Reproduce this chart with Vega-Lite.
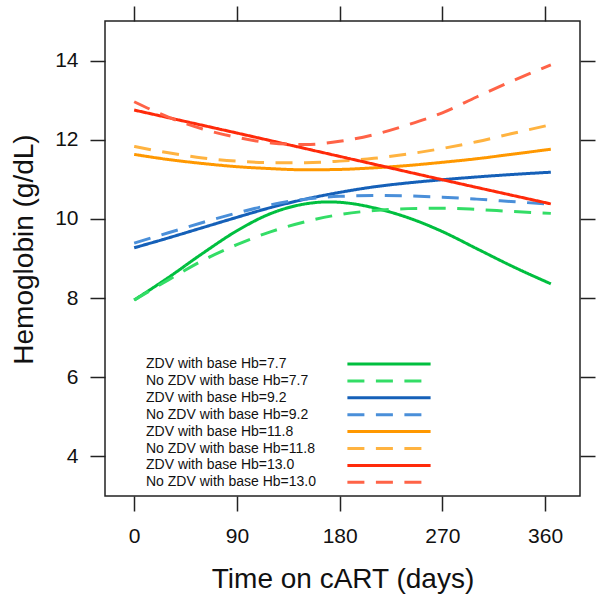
{
  "$schema": "https://vega.github.io/schema/vega-lite/v6.json",
  "width": 475,
  "height": 475,
  "autosize": "none",
  "padding": {"left": 105, "top": 21, "right": 22, "bottom": 104},
  "background": "white",
  "config": {
    "font": "Liberation Sans",
    "view": {"stroke": "#222222", "strokeWidth": 1.5},
    "axis": {"domain": false, "grid": false, "tickColor": "#222222", "tickWidth": 1.5, "tickSize": 15, "labelColor": "#111111", "titleColor": "#111111", "labelFont": "Liberation Sans", "titleFont": "Liberation Sans", "labelFontSize": 21, "titleFontSize": 28, "titleFontWeight": "normal"}
  },
  "data": {"values": [
    {"series": "ZDV with base Hb=7.7", "day": 0, "hb": 7.95},
    {"series": "ZDV with base Hb=7.7", "day": 30, "hb": 8.52},
    {"series": "ZDV with base Hb=7.7", "day": 60, "hb": 9.13},
    {"series": "ZDV with base Hb=7.7", "day": 90, "hb": 9.70},
    {"series": "ZDV with base Hb=7.7", "day": 120, "hb": 10.14},
    {"series": "ZDV with base Hb=7.7", "day": 150, "hb": 10.38},
    {"series": "ZDV with base Hb=7.7", "day": 170, "hb": 10.43},
    {"series": "ZDV with base Hb=7.7", "day": 190, "hb": 10.39},
    {"series": "ZDV with base Hb=7.7", "day": 210, "hb": 10.28},
    {"series": "ZDV with base Hb=7.7", "day": 240, "hb": 10.03},
    {"series": "ZDV with base Hb=7.7", "day": 270, "hb": 9.68},
    {"series": "ZDV with base Hb=7.7", "day": 300, "hb": 9.25},
    {"series": "ZDV with base Hb=7.7", "day": 330, "hb": 8.82},
    {"series": "ZDV with base Hb=7.7", "day": 365, "hb": 8.36},
    {"series": "No ZDV with base Hb=7.7", "day": 0, "hb": 7.95},
    {"series": "No ZDV with base Hb=7.7", "day": 30, "hb": 8.46},
    {"series": "No ZDV with base Hb=7.7", "day": 60, "hb": 8.95},
    {"series": "No ZDV with base Hb=7.7", "day": 90, "hb": 9.35},
    {"series": "No ZDV with base Hb=7.7", "day": 120, "hb": 9.68},
    {"series": "No ZDV with base Hb=7.7", "day": 150, "hb": 9.93},
    {"series": "No ZDV with base Hb=7.7", "day": 180, "hb": 10.11},
    {"series": "No ZDV with base Hb=7.7", "day": 210, "hb": 10.21},
    {"series": "No ZDV with base Hb=7.7", "day": 240, "hb": 10.26},
    {"series": "No ZDV with base Hb=7.7", "day": 270, "hb": 10.27},
    {"series": "No ZDV with base Hb=7.7", "day": 300, "hb": 10.24},
    {"series": "No ZDV with base Hb=7.7", "day": 330, "hb": 10.19},
    {"series": "No ZDV with base Hb=7.7", "day": 365, "hb": 10.14},
    {"series": "ZDV with base Hb=9.2", "day": 0, "hb": 9.27},
    {"series": "ZDV with base Hb=9.2", "day": 30, "hb": 9.52},
    {"series": "ZDV with base Hb=9.2", "day": 60, "hb": 9.78},
    {"series": "ZDV with base Hb=9.2", "day": 90, "hb": 10.04},
    {"series": "ZDV with base Hb=9.2", "day": 120, "hb": 10.29},
    {"series": "ZDV with base Hb=9.2", "day": 150, "hb": 10.50},
    {"series": "ZDV with base Hb=9.2", "day": 180, "hb": 10.67},
    {"series": "ZDV with base Hb=9.2", "day": 210, "hb": 10.81},
    {"series": "ZDV with base Hb=9.2", "day": 240, "hb": 10.91},
    {"series": "ZDV with base Hb=9.2", "day": 270, "hb": 10.99},
    {"series": "ZDV with base Hb=9.2", "day": 300, "hb": 11.06},
    {"series": "ZDV with base Hb=9.2", "day": 330, "hb": 11.12},
    {"series": "ZDV with base Hb=9.2", "day": 365, "hb": 11.18},
    {"series": "No ZDV with base Hb=9.2", "day": 0, "hb": 9.39},
    {"series": "No ZDV with base Hb=9.2", "day": 30, "hb": 9.65},
    {"series": "No ZDV with base Hb=9.2", "day": 60, "hb": 9.91},
    {"series": "No ZDV with base Hb=9.2", "day": 90, "hb": 10.15},
    {"series": "No ZDV with base Hb=9.2", "day": 120, "hb": 10.36},
    {"series": "No ZDV with base Hb=9.2", "day": 150, "hb": 10.50},
    {"series": "No ZDV with base Hb=9.2", "day": 180, "hb": 10.57},
    {"series": "No ZDV with base Hb=9.2", "day": 210, "hb": 10.59},
    {"series": "No ZDV with base Hb=9.2", "day": 240, "hb": 10.58},
    {"series": "No ZDV with base Hb=9.2", "day": 270, "hb": 10.55},
    {"series": "No ZDV with base Hb=9.2", "day": 300, "hb": 10.50},
    {"series": "No ZDV with base Hb=9.2", "day": 330, "hb": 10.44},
    {"series": "No ZDV with base Hb=9.2", "day": 365, "hb": 10.37},
    {"series": "ZDV with base Hb=11.8", "day": 0, "hb": 11.63},
    {"series": "ZDV with base Hb=11.8", "day": 30, "hb": 11.50},
    {"series": "ZDV with base Hb=11.8", "day": 60, "hb": 11.40},
    {"series": "ZDV with base Hb=11.8", "day": 90, "hb": 11.32},
    {"series": "ZDV with base Hb=11.8", "day": 120, "hb": 11.27},
    {"series": "ZDV with base Hb=11.8", "day": 150, "hb": 11.24},
    {"series": "ZDV with base Hb=11.8", "day": 180, "hb": 11.25},
    {"series": "ZDV with base Hb=11.8", "day": 210, "hb": 11.29},
    {"series": "ZDV with base Hb=11.8", "day": 240, "hb": 11.35},
    {"series": "ZDV with base Hb=11.8", "day": 270, "hb": 11.43},
    {"series": "ZDV with base Hb=11.8", "day": 300, "hb": 11.52},
    {"series": "ZDV with base Hb=11.8", "day": 330, "hb": 11.63},
    {"series": "ZDV with base Hb=11.8", "day": 365, "hb": 11.76},
    {"series": "No ZDV with base Hb=11.8", "day": 0, "hb": 11.83},
    {"series": "No ZDV with base Hb=11.8", "day": 30, "hb": 11.67},
    {"series": "No ZDV with base Hb=11.8", "day": 60, "hb": 11.54},
    {"series": "No ZDV with base Hb=11.8", "day": 90, "hb": 11.46},
    {"series": "No ZDV with base Hb=11.8", "day": 120, "hb": 11.42},
    {"series": "No ZDV with base Hb=11.8", "day": 150, "hb": 11.42},
    {"series": "No ZDV with base Hb=11.8", "day": 180, "hb": 11.46},
    {"series": "No ZDV with base Hb=11.8", "day": 210, "hb": 11.53},
    {"series": "No ZDV with base Hb=11.8", "day": 240, "hb": 11.64},
    {"series": "No ZDV with base Hb=11.8", "day": 270, "hb": 11.78},
    {"series": "No ZDV with base Hb=11.8", "day": 300, "hb": 11.95},
    {"series": "No ZDV with base Hb=11.8", "day": 330, "hb": 12.15},
    {"series": "No ZDV with base Hb=11.8", "day": 365, "hb": 12.38},
    {"series": "ZDV with base Hb=13.0", "day": 0, "hb": 12.75},
    {"series": "ZDV with base Hb=13.0", "day": 90, "hb": 12.17},
    {"series": "ZDV with base Hb=13.0", "day": 180, "hb": 11.58},
    {"series": "ZDV with base Hb=13.0", "day": 270, "hb": 10.99},
    {"series": "ZDV with base Hb=13.0", "day": 365, "hb": 10.38},
    {"series": "No ZDV with base Hb=13.0", "day": 0, "hb": 12.96},
    {"series": "No ZDV with base Hb=13.0", "day": 30, "hb": 12.57},
    {"series": "No ZDV with base Hb=13.0", "day": 60, "hb": 12.27},
    {"series": "No ZDV with base Hb=13.0", "day": 90, "hb": 12.06},
    {"series": "No ZDV with base Hb=13.0", "day": 120, "hb": 11.92},
    {"series": "No ZDV with base Hb=13.0", "day": 150, "hb": 11.88},
    {"series": "No ZDV with base Hb=13.0", "day": 180, "hb": 11.96},
    {"series": "No ZDV with base Hb=13.0", "day": 210, "hb": 12.13},
    {"series": "No ZDV with base Hb=13.0", "day": 240, "hb": 12.38},
    {"series": "No ZDV with base Hb=13.0", "day": 270, "hb": 12.68},
    {"series": "No ZDV with base Hb=13.0", "day": 300, "hb": 13.08},
    {"series": "No ZDV with base Hb=13.0", "day": 330, "hb": 13.47},
    {"series": "No ZDV with base Hb=13.0", "day": 365, "hb": 13.89}
  ]},
  "layer": [
    {
      "mark": {"type": "line", "strokeWidth": 3, "interpolate": "monotone", "clip": true},
      "encoding": {
        "x": {"field": "day", "type": "quantitative", "scale": {"domain": [-25.55, 390.55], "nice": false, "zero": false},
              "axis": {"orient": "bottom", "values": [0, 90, 180, 270, 360], "labelPadding": 14, "title": "Time on cART (days)", "titleX": 237.5, "titleY": 91, "titleBaseline": "alphabetic", "titleAnchor": null}},
        "y": {"field": "hb", "type": "quantitative", "scale": {"domain": [3, 15], "nice": false, "zero": false},
              "axis": {"orient": "left", "values": [4, 6, 8, 10, 12, 14], "labelPadding": 12, "title": "Hemoglobin (g/dL)", "titleX": -73, "titleY": 228, "titleBaseline": "alphabetic", "titleAlign": "center", "titleAngle": 270}},
        "color": {"field": "series", "type": "nominal",
          "scale": {
            "domain": ["ZDV with base Hb=7.7", "No ZDV with base Hb=7.7", "ZDV with base Hb=9.2", "No ZDV with base Hb=9.2", "ZDV with base Hb=11.8", "No ZDV with base Hb=11.8", "ZDV with base Hb=13.0", "No ZDV with base Hb=13.0"],
            "range": ["#00bf3f", "#33dd66", "#1560b8", "#4a8fd9", "#ff9800", "#ffb340", "#ff2a0a", "#ff6347"]
          },
          "legend": {"orient": "none", "legendX": 41, "legendY": 335, "title": null, "padding": 0, "columns": 1, "rowPadding": 1.9, "symbolType": "M-6.4,0H6.4", "symbolSize": 169, "symbolStrokeWidth": 3, "symbolOffset": 235, "labelOffset": -251, "labelFontSize": 14, "labelFont": "Liberation Sans", "labelColor": "#111111", "labelLimit": 300}
        },
        "strokeDash": {"field": "series", "type": "nominal",
          "scale": {
            "domain": ["ZDV with base Hb=7.7", "No ZDV with base Hb=7.7", "ZDV with base Hb=9.2", "No ZDV with base Hb=9.2", "ZDV with base Hb=11.8", "No ZDV with base Hb=11.8", "ZDV with base Hb=13.0", "No ZDV with base Hb=13.0"],
            "range": [[1, 0], [17, 11.5], [1, 0], [17, 11.5], [1, 0], [17, 11.5], [1, 0], [17, 11.5]]
          }
        }
      }
    },
    {
      "mark": {"type": "line", "strokeOpacity": 0},
      "encoding": {
        "x": {"field": "day", "type": "quantitative", "axis": {"orient": "top", "values": [0, 90, 180, 270, 360], "labels": false, "title": null}},
        "y": {"field": "hb", "type": "quantitative", "axis": {"orient": "right", "values": [4, 6, 8, 10, 12, 14], "labels": false, "title": null}},
        "detail": {"field": "series"}
      }
    }
  ],
  "resolve": {"axis": {"x": "independent", "y": "independent"}}
}
